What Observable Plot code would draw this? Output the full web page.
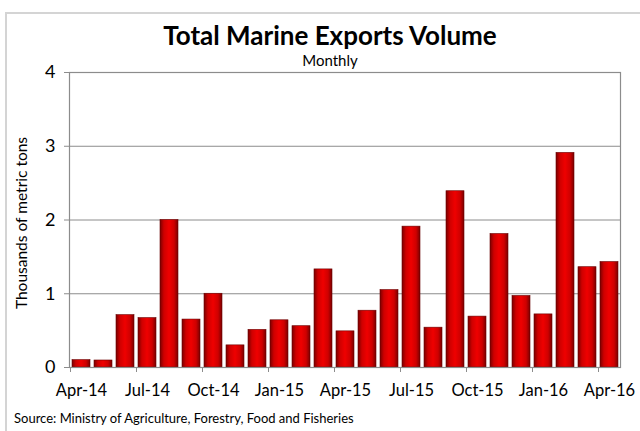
<!DOCTYPE html>
<html>
<head>
<meta charset="utf-8">
<script src="https://cdn.jsdelivr.net/npm/d3@7"></script>
<script src="https://cdn.jsdelivr.net/npm/@observablehq/plot@0.6"></script>
<style>
  html, body { margin: 0; padding: 0; background: #fff; }
  #wrap { position: relative; width: 640px; height: 431px; overflow: hidden; font-family: Lato, "Open Sans", sans-serif; }
  #frame { position: absolute; left: 5px; top: 12px; width: 660px; height: 440px; border-left: 2px solid #d4d4d4; border-top: 2px solid #d4d4d4; box-sizing: border-box; }
  #title { position: absolute; left: 0; width: 660px; top: 19px; text-align: center; font-weight: 700; font-size: 26px; color: #000; }
  #subtitle { position: absolute; left: 0; width: 660px; top: 51px; text-align: center; font-size: 15px; color: #000; }
  #caption { position: absolute; left: 14px; top: 410px; font-size: 13px; color: #000; }
  #chart { position: absolute; left: 0; top: 0; }
</style>
</head>
<body>
<div id="wrap">
  <div id="frame"></div>
  <div id="chart"></div>
  <div id="title">Total Marine Exports Volume</div>
  <div id="subtitle">Monthly</div>
  <div id="caption">Source: Ministry of Agriculture, Forestry, Food and Fisheries</div>
</div>
<script>
const months = ["Apr-14","May-14","Jun-14","Jul-14","Aug-14","Sep-14","Oct-14","Nov-14","Dec-14",
  "Jan-15","Feb-15","Mar-15","Apr-15","May-15","Jun-15","Jul-15","Aug-15","Sep-15","Oct-15","Nov-15","Dec-15",
  "Jan-16","Feb-16","Mar-16","Apr-16"];
const values = [0.10, 0.095, 0.71, 0.67, 2.00, 0.65, 1.00, 0.30, 0.51,
  0.64, 0.56, 1.33, 0.49, 0.77, 1.05, 1.91, 0.54, 2.39, 0.69, 1.81, 0.97,
  0.72, 2.91, 1.36, 1.43];
const labelMonths = ["Apr-14","Jul-14","Oct-14","Jan-15","Apr-15","Jul-15","Oct-15","Jan-16","Apr-16"];
const yTicks = [0, 1, 2, 3, 4];
const yLabel = "Thousands of metric tons";

const data = months.map((m, i) => ({month: m, value: values[i]}));

const plot = Plot.plot({
  width: 640,
  height: 400,
  marginLeft: 69,
  marginRight: 20,
  marginTop: 72,
  marginBottom: 33,
  style: {fontFamily: "Lato, 'Open Sans', sans-serif", background: "transparent", overflow: "visible"},
  x: {domain: months, paddingInner: 0.2, paddingOuter: 0.1, label: null},
  y: {domain: [0, 4], label: null},
  marks: [
    Plot.ruleY([1, 2, 3], {stroke: "#8c8c8c", strokeWidth: 1}),
    Plot.barY(data, {x: "month", y: "value", fill: "url(#barGrad)", stroke: "#6a0000", strokeWidth: 0.6}),
    Plot.frame({stroke: "#8c8c8c", strokeWidth: 1.2}),
    Plot.axisY({ticks: yTicks, tickFormat: d3.format("d"), tickSize: 5, tickPadding: 9, fontSize: 18, stroke: "#8c8c8c", label: null}),
    Plot.axisX({ticks: labelMonths, tickSize: 0, tickPadding: 17, fontSize: 16.5, label: null}),
    Plot.axisX({ticks: labelMonths, tickSize: 5, tickFormat: () => "", dx: -11, stroke: "#8c8c8c", label: null}),
    Plot.text([yLabel], {frameAnchor: "left", textAnchor: "middle", rotate: -90, dx: -47, dy: 3, fontSize: 15.5, fill: "#000"})
  ]
});

const defs = d3.select(plot).insert("defs", ":first-child");
const g = defs.append("linearGradient").attr("id", "barGrad").attr("x1", "0").attr("x2", "1").attr("y1", "0").attr("y2", "0");
[["0%", "#7a0000"], ["22%", "#cf0000"], ["50%", "#ef0000"], ["78%", "#cf0000"], ["100%", "#7a0000"]]
  .forEach(([o, c]) => g.append("stop").attr("offset", o).attr("stop-color", c));

document.getElementById("chart").appendChild(plot);
</script>
</body>
</html>
